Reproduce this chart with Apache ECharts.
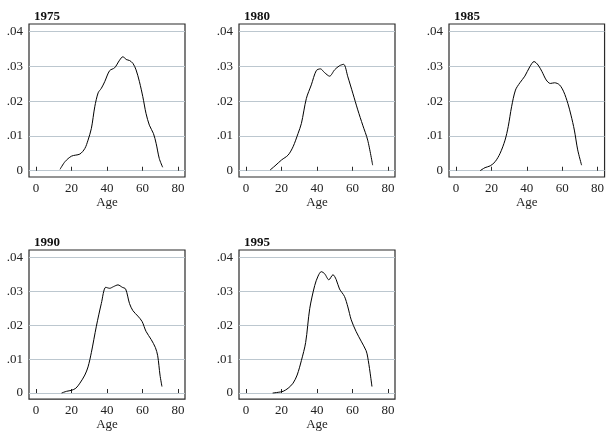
<!DOCTYPE html>
<html>
<head>
    <meta charset="utf-8">
    <title>Age distribution by year</title>
    <script src="https://cdn.jsdelivr.net/npm/echarts@6.0.0/dist/echarts.min.js"></script>
</head>
<body style="margin:0;background:#fff">
    <div id="main" style="width:607px;height:432px;"></div>

<script>
// panel titles
const years = ['1975', '1980', '1985', '1990', '1995'];

// x tick values / y tick values + labels
const xTicks = [0, 20, 40, 60, 80];
const yTicks = [0, 0.01, 0.02, 0.03, 0.04];
const yTickLabels = ['0', '.01', '.02', '.03', '.04'];

// density curves, [age, density]
const d1975 = [
    [13.5, 0.0004], [16.3, 0.0026], [20, 0.0042], [24.7, 0.0048], [27.5, 0.0064],
    [29.3, 0.0088], [31.2, 0.0122], [33.1, 0.0184], [35, 0.0224], [36.8, 0.0237],
    [38.7, 0.0256], [41.5, 0.0288], [44.3, 0.0296], [47.1, 0.0318], [49, 0.0328],
    [50.8, 0.0320], [52.7, 0.0317], [54.6, 0.0309], [56.4, 0.0290], [58.3, 0.0256],
    [60.2, 0.0213], [62, 0.0165], [63.9, 0.0131], [66.2, 0.0107], [67.7, 0.0079],
    [69.5, 0.0035], [71.4, 0.0010]
];
const d1980 = [
    [13.5, 0.0002], [16.3, 0.0014], [20, 0.0031], [23.7, 0.0045], [26.5, 0.0069],
    [29.3, 0.0107], [31.2, 0.0136], [34, 0.0208], [36.8, 0.0247], [39.6, 0.0288],
    [41.9, 0.0293], [44.3, 0.0282], [47.1, 0.0272], [49.9, 0.0290], [52.7, 0.0302],
    [55, 0.0306], [57.4, 0.0270], [60.2, 0.0223], [63, 0.0175], [65.8, 0.0131],
    [68.6, 0.0088], [71.4, 0.0016]
];
const d1985 = [
    [13.6, 0.0000], [16.4, 0.0009], [19.3, 0.0014], [22.1, 0.0026], [24.9, 0.0050],
    [27.7, 0.0088], [29.5, 0.0127], [31.4, 0.0184], [33.6, 0.0232], [36.1, 0.0253],
    [38.9, 0.0272], [41.7, 0.0299], [44.1, 0.0314], [46.4, 0.0304], [48.6, 0.0285],
    [51, 0.0261], [53.3, 0.0251], [55.7, 0.0253], [58.5, 0.0247], [60.9, 0.0227],
    [63.2, 0.0194], [65, 0.0160], [66.9, 0.0117], [68.8, 0.0060], [71, 0.0016]
];
const d1990 = [
    [14.4, 0.0000], [17.2, 0.0005], [20, 0.0008], [22.4, 0.0014], [24.7, 0.0029],
    [27.5, 0.0053], [29.3, 0.0077], [31.2, 0.0120], [34, 0.0197], [36.8, 0.0264],
    [39.3, 0.0312], [41.5, 0.0309], [43.7, 0.0314], [46.2, 0.0319], [48.6, 0.0312],
    [50.5, 0.0307], [52.7, 0.0264], [54.6, 0.0243], [57.4, 0.0227], [59.8, 0.0211],
    [62, 0.0182], [64.9, 0.0158], [67.3, 0.0134], [68.6, 0.0110], [69.9, 0.0053],
    [71, 0.0019]
];
const d1995 = [
    [15, 0.0000], [18.1, 0.0002], [20.9, 0.0005], [23.7, 0.0014], [26.5, 0.0029],
    [28.8, 0.0053], [31.2, 0.0096], [33.6, 0.0149], [35.9, 0.0249], [38.7, 0.0317],
    [40.6, 0.0345], [42.4, 0.0358], [44.3, 0.0352], [46.7, 0.0334], [49, 0.0349],
    [50.8, 0.0335], [52.7, 0.0307], [55.5, 0.0285], [57.4, 0.0254], [59.3, 0.0216],
    [62, 0.0182], [64.9, 0.0153], [67.7, 0.0125], [68.6, 0.0106], [69.9, 0.0062],
    [71, 0.0019]
];
const curves = [d1975, d1980, d1985, d1990, d1995];

const font = '"Liberation Serif", "DejaVu Serif", serif';
const lefts = [29, 239, 449];
const tops = [24, 250];

const grids = [], xAxes = [], yAxes = [], series = [], titles = [];

years.forEach((yr, i) => {
    const left = lefts[i % 3];
    const top = tops[Math.floor(i / 3)];

    grids.push({
        left: left, top: top, width: 156, height: 153,
        show: true, borderColor: '#2a2a2a', borderWidth: 1.2
    });
    titles.push({
        text: yr, left: left, top: top - 19,
        textStyle: { fontFamily: font, fontSize: 13, fontWeight: 'bold', color: '#111' }
    });
    xAxes.push({
        gridIndex: i, type: 'value', min: -4, max: 84,
        name: 'Age', nameLocation: 'middle', nameGap: 16,
        nameTextStyle: { fontFamily: font, fontSize: 13, color: '#222', lineHeight: 13 },
        axisLine: { show: false },
        axisTick: { show: true, inside: true, length: 4, customValues: xTicks,
                    lineStyle: { color: '#2a2a2a' } },
        axisLabel: { customValues: xTicks, margin: 5,
                     fontFamily: font, fontSize: 13, color: '#222' },
        splitLine: { show: false }
    });
    yAxes.push({
        gridIndex: i, type: 'value', min: -0.0018, max: 0.0422,
        axisLine: { show: false },
        axisTick: { show: false, customValues: yTicks },
        axisLabel: {
            customValues: yTicks, margin: 6,
            fontFamily: font, fontSize: 13, color: '#222',
            formatter: v => yTickLabels[yTicks.findIndex(t => Math.abs(t - v) < 1e-9)]
        },
        splitLine: { show: true, lineStyle: { color: '#bcc7cf', width: 1 } }
    });
    series.push({
        type: 'line', xAxisIndex: i, yAxisIndex: i,
        data: curves[i], smooth: 0.3, symbol: 'none',
        lineStyle: { color: '#000', width: 1 },
        silent: true, animation: false
    });
});

const chart = echarts.init(document.getElementById('main'));
chart.setOption({
    backgroundColor: '#fff',
    animation: false,
    title: titles,
    grid: grids,
    xAxis: xAxes,
    yAxis: yAxes,
    series: series
});
</script>
</body>
</html>
